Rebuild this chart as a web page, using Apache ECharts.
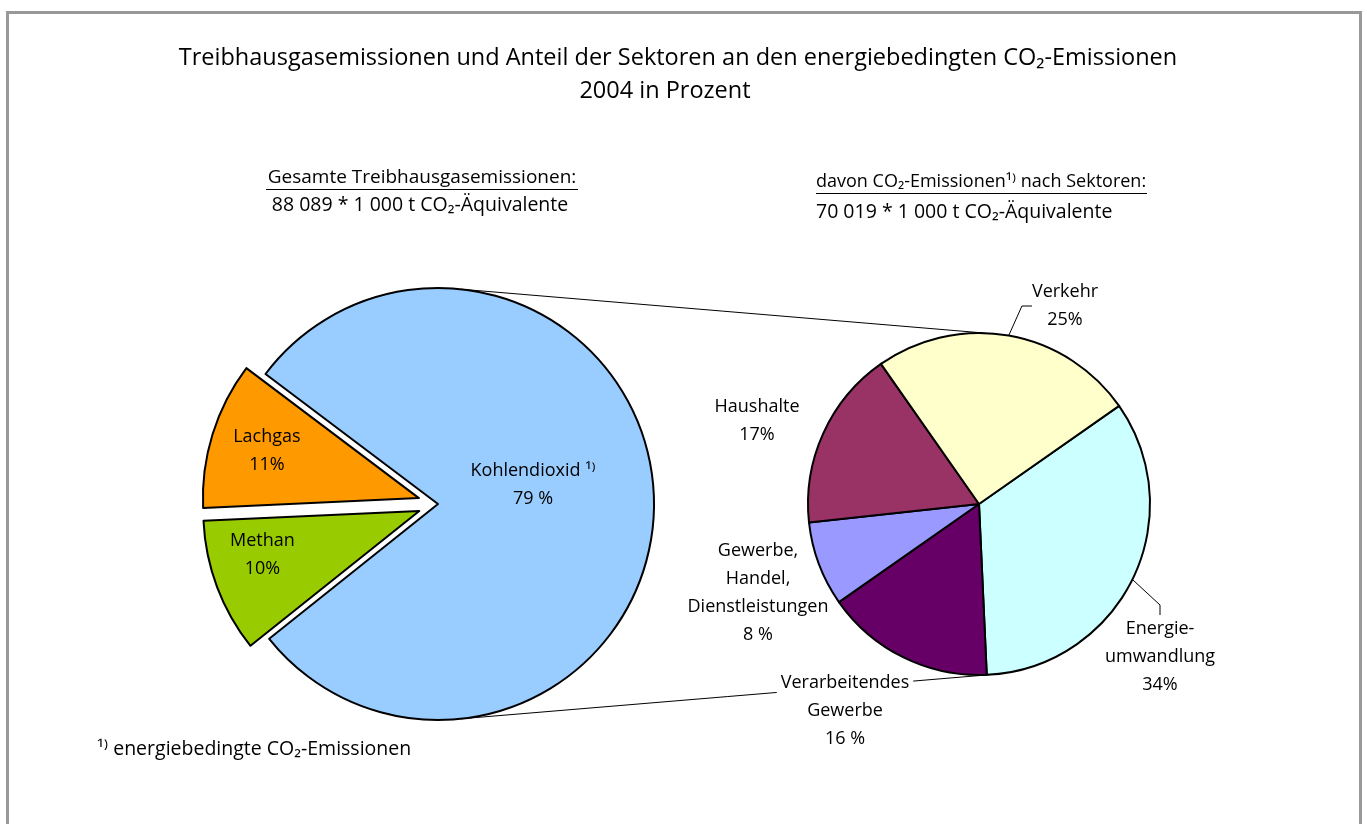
<!DOCTYPE html>
<html>
<head>
<meta charset="utf-8">
<style>
  html, body { margin: 0; padding: 0; background: #fff; }
  #chart { width: 1367px; height: 824px; }
</style>
<script src="https://cdn.jsdelivr.net/npm/echarts@6/dist/echarts.min.js"></script>
</head>
<body>
<div id="chart"></div>
<script>
// Daten: Treibhausgase gesamt (links) und CO2 nach Sektoren (rechts)
const gasNames = ['Kohlendioxid', 'Methan', 'Lachgas'];
const gasValues = [79, 10, 11];
const gasLabels = ['Kohlendioxid ¹⁾\n79 %', 'Methan\n10%', 'Lachgas\n11%'];
const gasColors = ['#99CCFF', '#99CC00', '#FF9900'];

const sectorNames = ['Energieumwandlung', 'Verarbeitendes Gewerbe', 'Gewerbe, Handel, Dienstleistungen', 'Haushalte', 'Verkehr'];
const sectorValues = [34, 16, 8, 17, 25];
const sectorLabels = ['Energie-\numwandlung\n34%', 'Verarbeitendes\nGewerbe\n16 %', 'Gewerbe,\nHandel,\nDienstleistungen\n8 %', 'Haushalte\n17%', 'Verkehr\n25%'];
const sectorColors = ['#CCFFFF', '#660066', '#9999FF', '#993366', '#FFFFCC'];

// Layout
const FONT = '"Open Sans", "Noto Sans", sans-serif';
const L_CENTER = [438, 504], L_R = 216;
const R_CENTER = [979, 504], R_R = 171;
// Verschiebung der Beschriftungen (links: dx/dy, rechts: relativ zur Mitte)
const gasLabelShift = [[-16, -18], [-53, 5], [-46, -14]];
const sectorLabelPos = [[181, 153], [-134, 207], [-221, 89], [-222, -83], [86, -198]];

function polar(c, r, deg) {
  const a = deg * Math.PI / 180;
  return [c[0] + r * Math.cos(a), c[1] - r * Math.sin(a)];
}

function txt(text, x, y, size, align) {
  return {
    type: 'text', silent: true,
    style: { text: text, x: x, y: y, fontSize: size, fill: '#000', fontFamily: FONT, align: align || 'left', verticalAlign: 'middle' }
  };
}

function hline(x1, x2, y) {
  return { type: 'line', silent: true, shape: { x1: x1, y1: y, x2: x2, y2: y }, style: { stroke: '#000', lineWidth: 1 } };
}

const chart = echarts.init(document.getElementById('chart'));

const topA = polar(L_CENTER, L_R, 84), topB = polar(R_CENTER, R_R, 88);
const botA = polar(L_CENTER, L_R, -84), botB = polar(R_CENTER, R_R, -85);

const option = {
  animation: false,
  textStyle: { fontFamily: FONT },
  graphic: [
    { type: 'rect', silent: true, shape: { x: 7.5, y: 12.5, width: 1353, height: 900 }, style: { fill: 'none', stroke: '#999', lineWidth: 3 } },
    txt('Treibhausgasemissionen und Anteil der Sektoren an den energiebedingten CO₂-Emissionen', 678, 58, 23.5, 'center'),
    txt('2004 in Prozent', 665, 91, 23.5, 'center'),
    txt('Gesamte Treibhausgasemissionen:', 422, 178, 19, 'center'),
    hline(266, 578, 189.5),
    txt('88 089 * 1 000 t CO₂-Äquivalente', 420, 205, 19.5, 'center'),
    txt('davon CO₂-Emissionen¹⁾ nach Sektoren:', 816, 182, 18),
    hline(816, 1147, 193.5),
    txt('70 019 * 1 000 t CO₂-Äquivalente', 816, 212, 19.5),
    txt('¹⁾ energiebedingte CO₂-Emissionen', 97, 749, 19.5),
    { type: 'line', z: 1, silent: true, shape: { x1: topA[0], y1: topA[1], x2: topB[0], y2: topB[1] }, style: { stroke: '#000', lineWidth: 1 } },
    { type: 'line', z: 1, silent: true, shape: { x1: botA[0], y1: botA[1], x2: botB[0], y2: botB[1] }, style: { stroke: '#000', lineWidth: 1 } }
  ],
  series: [
    {
      type: 'pie',
      center: L_CENTER,
      radius: L_R,
      startAngle: 143,
      clockwise: true,
      selectedMode: 'multiple',
      selectedOffset: 20,
      silent: true,
      emphasis: { disabled: true },
      itemStyle: { borderColor: '#000', borderWidth: 2 },
      label: {
        show: true, position: 'inside', color: '#000', fontSize: 18, lineHeight: 28,
        fontFamily: FONT, formatter: p => gasLabels[p.dataIndex]
      },
      labelLine: { show: false },
      labelLayout: p => ({ dx: gasLabelShift[p.dataIndex][0], dy: gasLabelShift[p.dataIndex][1] }),
      data: gasNames.map((n, i) => ({
        name: n, value: gasValues[i], selected: i > 0,
        itemStyle: { color: gasColors[i] }
      }))
    },
    {
      type: 'pie',
      center: R_CENTER,
      radius: R_R,
      startAngle: 35,
      clockwise: true,
      silent: true,
      emphasis: { disabled: true },
      itemStyle: { borderColor: '#000', borderWidth: 2 },
      label: {
        show: true, position: 'outside', color: '#000', fontSize: 18, lineHeight: 28,
        fontFamily: FONT, formatter: p => sectorLabels[p.dataIndex]
      },
      labelLine: { show: false },
      labelLayout: p => ({
        x: R_CENTER[0] + sectorLabelPos[p.dataIndex][0],
        y: R_CENTER[1] + sectorLabelPos[p.dataIndex][1],
        align: 'center', verticalAlign: 'middle'
      }),
      data: sectorNames.map((n, i) => ({
        name: n, value: sectorValues[i],
        itemStyle: { color: sectorColors[i] },
        label: i === 1 ? { backgroundColor: '#fff', padding: [0, 4] } : {},
        labelLine: { show: i === 0 || i === 4, length: 20, length2: 10, lineStyle: { color: '#000', width: 1 } }
      }))
    }
  ]
};

chart.setOption(option);
window.addEventListener('resize', () => chart.resize());
</script>
</body>
</html>
